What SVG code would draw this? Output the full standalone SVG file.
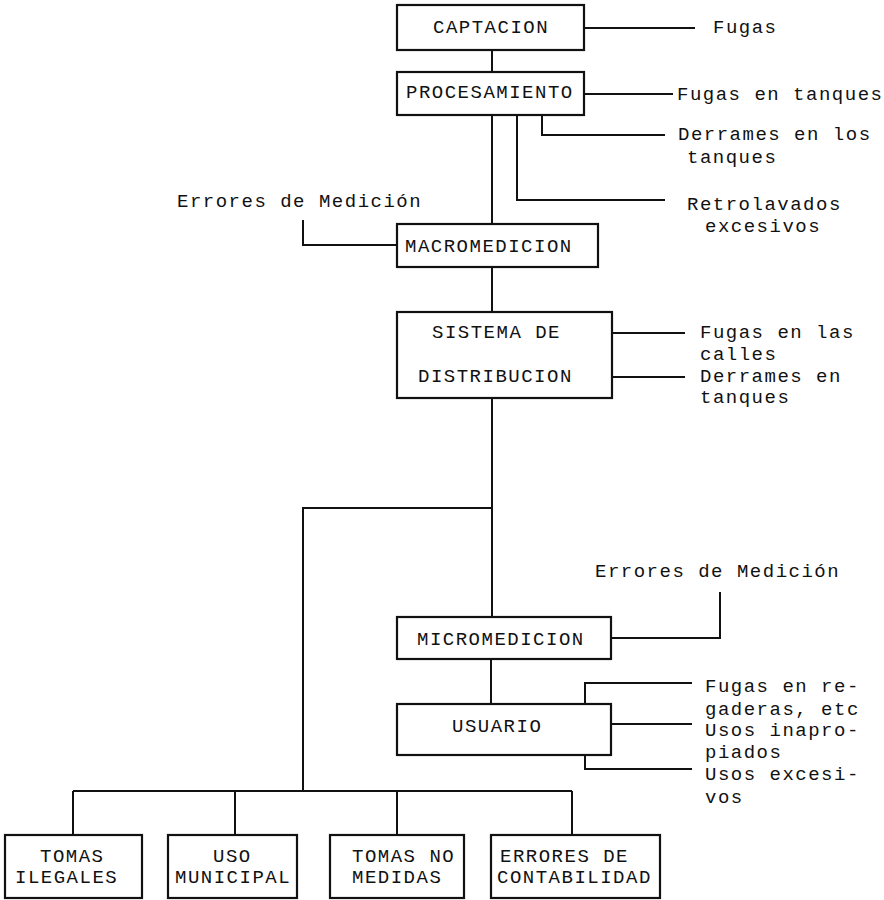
<svg xmlns="http://www.w3.org/2000/svg" width="884" height="900" viewBox="0 0 884 900">
<style>
.box{fill:#fff;stroke:#111;stroke-width:2.2}
.ln{fill:none;stroke:#111;stroke-width:2}
text{font-family:"Liberation Mono","Courier New",monospace;font-size:19px;letter-spacing:1.5px;fill:#111}
</style>
<rect width="884" height="900" fill="#fff"/>
<g id="connectors">
<path class="ln" d="M584 28H695"/>
<path class="ln" d="M492 50V72"/>
<path class="ln" d="M584 94H673"/>
<path class="ln" d="M542 115V135H665"/>
<path class="ln" d="M517 115V200H665"/>
<path class="ln" d="M492 115V224"/>
<path class="ln" d="M303 220V245H397"/>
<path class="ln" d="M492 267V312"/>
<path class="ln" d="M612 333H685"/>
<path class="ln" d="M612 377H685"/>
<path class="ln" d="M492 398V617"/>
<path class="ln" d="M492 508H303V791"/>
<path class="ln" d="M73 791H572"/>
<path class="ln" d="M73 791V835M235 791V835M397 791V835M572 791V835"/>
<path class="ln" d="M611 638H720V592"/>
<path class="ln" d="M491 659V704"/>
<path class="ln" d="M585 704V683H692"/>
<path class="ln" d="M611 724H692"/>
<path class="ln" d="M585 755V769H692"/>
</g>
<g id="captacion"><rect class="box" x="397" y="5" width="187" height="45"/><text x="433" y="33">CAPTACION</text></g>
<g id="procesamiento"><rect class="box" x="397" y="72" width="187" height="43"/><text x="406" y="98">PROCESAMIENTO</text></g>
<g id="macromedicion"><rect class="box" x="397" y="224" width="201" height="43"/><text x="405" y="252">MACROMEDICION</text></g>
<g id="sistema"><rect class="box" x="397" y="312" width="215" height="86"/><text x="432" y="338">SISTEMA DE</text><text x="418" y="382">DISTRIBUCION</text></g>
<g id="micromedicion"><rect class="box" x="397" y="617" width="214" height="42"/><text x="417" y="645">MICROMEDICION</text></g>
<g id="usuario"><rect class="box" x="397" y="704" width="214" height="51"/><text x="452" y="732">USUARIO</text></g>
<g id="tomas-ilegales"><rect class="box" x="5" y="835" width="137" height="63"/><text x="40" y="862">TOMAS</text><text x="15" y="883">ILEGALES</text></g>
<g id="uso-municipal"><rect class="box" x="168" y="835" width="129" height="63"/><text x="213" y="862">USO</text><text x="175" y="883">MUNICIPAL</text></g>
<g id="tomas-no-medidas"><rect class="box" x="330" y="835" width="134" height="63"/><text x="352" y="862">TOMAS NO</text><text x="352" y="883">MEDIDAS</text></g>
<g id="errores-contabilidad"><rect class="box" x="491" y="835" width="169" height="63"/><text x="500" y="862">ERRORES DE</text><text x="497" y="883">CONTABILIDAD</text></g>
<g id="fugas"><text x="713" y="33">Fugas</text></g>
<g id="fugas-tanques"><text x="677" y="100" letter-spacing="0.8">Fugas en tanques</text></g>
<g id="derrames-los-tanques"><text x="678" y="140">Derrames en los</text><text x="687" y="163">tanques</text></g>
<g id="retrolavados"><text x="687" y="210">Retrolavados</text><text x="705" y="232">excesivos</text></g>
<g id="errores-macro"><text x="177" y="207">Errores de Medición</text></g>
<g id="fugas-calles"><text x="700" y="338">Fugas en las</text><text x="700" y="360">calles</text></g>
<g id="derrames-tanques"><text x="700" y="382">Derrames en</text><text x="700" y="403">tanques</text></g>
<g id="errores-micro"><text x="595" y="577">Errores de Medición</text></g>
<g id="fugas-regaderas"><text x="705" y="692">Fugas en re-</text><text x="705" y="715">gaderas, etc</text></g>
<g id="usos-inapropiados"><text x="705" y="736">Usos inapro-</text><text x="705" y="758">piados</text></g>
<g id="usos-excesivos"><text x="705" y="780">Usos excesi-</text><text x="705" y="803">vos</text></g>
</svg>
